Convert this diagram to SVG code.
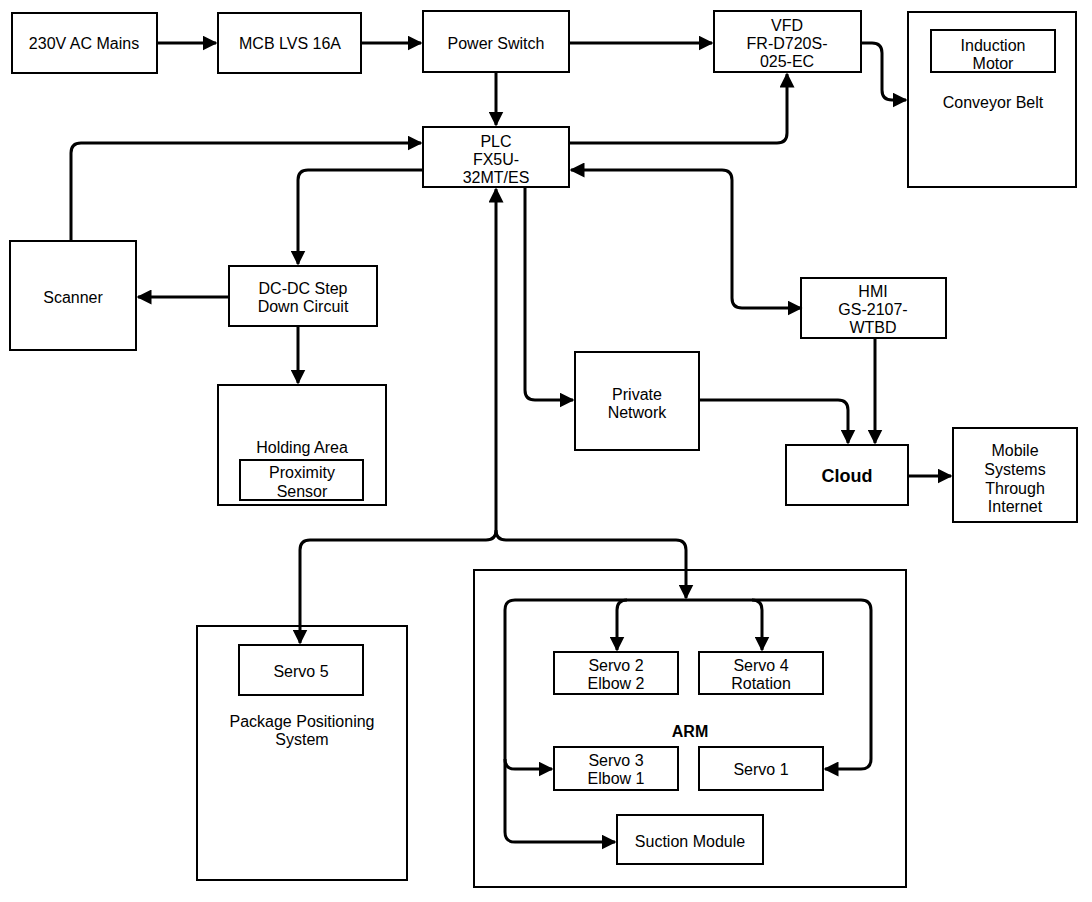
<svg xmlns="http://www.w3.org/2000/svg" width="1092" height="902" viewBox="0 0 1092 902">
<defs>
<marker id="a" viewBox="0 0 10 10" refX="9" refY="5" markerWidth="5" markerHeight="5" orient="auto-start-reverse" markerUnits="strokeWidth">
<path d="M0,0L10,5L0,10z" fill="#000"/></marker>
<style>
rect{fill:#fff;stroke:#000;stroke-width:2}
text{font-family:"Liberation Sans",Arial,sans-serif;font-size:16px;text-anchor:middle;fill:#000}
.c path{fill:none;stroke:#000;stroke-width:3;marker-end:url(#a)}
.b{font-weight:bold}
</style>
</defs>
<rect x="0" y="0" width="1092" height="902" style="fill:#fff;stroke:none"/>
<g id="mains"><rect x="12" y="13" width="145" height="60"/><text x="84" y="49">230V AC Mains</text></g>
<g id="mcb"><rect x="218" y="13" width="143" height="60"/><text x="290" y="49">MCB LVS 16A</text></g>
<g id="power"><rect x="423" y="11" width="146" height="61"/><text x="496" y="49">Power Switch</text></g>
<g id="vfd"><rect x="714" y="11" width="147" height="61"/><text x="787" y="31">VFD</text><text x="787" y="49">FR-D720S-</text><text x="787" y="67">025-EC</text></g>
<g id="conveyor"><rect x="908" y="12" width="168" height="175"/><rect x="931" y="30" width="124" height="42"/><text x="993" y="51">Induction</text><text x="993" y="69">Motor</text><text x="993" y="108">Conveyor Belt</text></g>
<g id="plc"><rect x="423" y="127" width="146" height="60"/><text x="496" y="147">PLC</text><text x="496" y="165">FX5U-</text><text x="496" y="183">32MT/ES</text></g>
<g id="scanner"><rect x="10" y="241" width="126" height="109"/><text x="73" y="303">Scanner</text></g>
<g id="dcdc"><rect x="229" y="266" width="148" height="60"/><text x="303" y="294">DC-DC Step</text><text x="303" y="312">Down Circuit</text></g>
<g id="holding"><rect x="218" y="385" width="168" height="120"/><text x="302" y="453">Holding Area</text><rect x="240" y="460" width="123" height="40"/><text x="302" y="478">Proximity</text><text x="302" y="497">Sensor</text></g>
<g id="private"><rect x="575" y="352" width="124" height="98"/><text x="637" y="400">Private</text><text x="637" y="418">Network</text></g>
<g id="hmi"><rect x="801" y="278" width="145" height="60"/><text x="873" y="297">HMI</text><text x="873" y="315">GS-2107-</text><text x="873" y="333">WTBD</text></g>
<g id="cloud"><rect x="786" y="445" width="122" height="60"/><text x="847" y="482" class="b" style="font-size:18px">Cloud</text></g>
<g id="mobile"><rect x="953" y="428" width="124" height="94"/><text x="1015" y="456">Mobile</text><text x="1015" y="475">Systems</text><text x="1015" y="494">Through</text><text x="1015" y="512">Internet</text></g>
<g id="pps"><rect x="197" y="626" width="210" height="254"/><rect x="239" y="645" width="124" height="50"/><text x="301" y="677">Servo 5</text><text x="302" y="727">Package Positioning</text><text x="302" y="745">System</text></g>
<g id="arm"><rect x="474" y="570" width="432" height="317"/><text x="690" y="737" class="b">ARM</text></g>
<g id="servo2"><rect x="554" y="652" width="124" height="42"/><text x="616" y="671">Servo 2</text><text x="616" y="689">Elbow 2</text></g>
<g id="servo4"><rect x="699" y="652" width="124" height="42"/><text x="761" y="671">Servo 4</text><text x="761" y="689">Rotation</text></g>
<g id="servo3"><rect x="554" y="747" width="124" height="43"/><text x="616" y="766">Servo 3</text><text x="616" y="784">Elbow 1</text></g>
<g id="servo1"><rect x="699" y="747" width="124" height="43"/><text x="761" y="775">Servo  1</text></g>
<g id="suction"><rect x="617" y="815" width="146" height="49"/><text x="690" y="847">Suction Module</text></g>
<g class="c">
<path d="M157,43H216"/>
<path d="M361,43H421"/>
<path d="M569,43H712"/>
<path d="M496,72V125"/>
<path d="M569,143H777Q787,143 787,133V74"/>
<path d="M861,43H872Q882,43 882,53V90Q882,100 892,100H906"/>
<path d="M71,241V153Q71,143 81,143H421"/>
<path d="M423,170H308Q298,170 298,180V264"/>
<path d="M229,297H138"/>
<path d="M298,326V383"/>
<path d="M801,308H742Q732,308 732,298V180Q732,170 722,170H571" style="marker-start:url(#a)"/>
<path d="M525,187V390Q525,400 535,400H573"/>
<path d="M699,400H838Q848,400 848,410V443"/>
<path d="M875,338V443"/>
<path d="M908,476H951"/>
<path d="M496,189V530Q496,540 486,540H310Q300,540 300,550V643" style="marker-start:url(#a)"/>
<path d="M496,530Q496,540 506,540H676Q686,540 686,550V598"/>
<path d="M627,600Q617,600 617,610V650"/>
<path d="M686,600H752Q762,600 762,610V650"/>
<path d="M686,600H515Q505,600 505,610V759Q505,769 515,769H552"/>
<path d="M505,759V832Q505,842 515,842H615"/>
<path d="M752,600H861Q871,600 871,610V759Q871,769 861,769H825"/>
</g>
</svg>
